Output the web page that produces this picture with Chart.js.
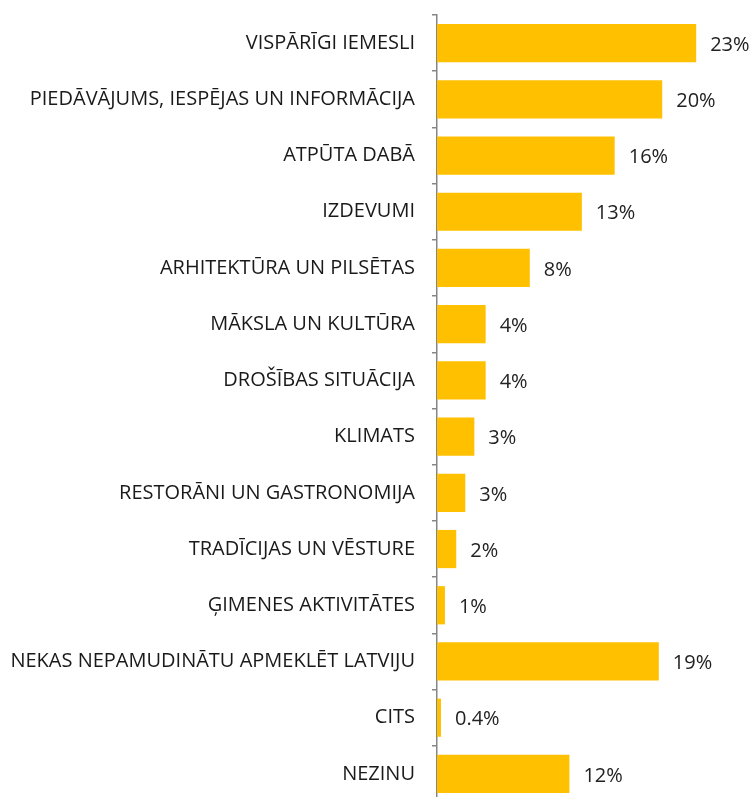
<!DOCTYPE html>
<html>
<head>
<meta charset="utf-8">
<script src="https://cdn.jsdelivr.net/npm/chart.js@4.4.1/dist/chart.umd.min.js"></script>
<style>
  html, body { margin: 0; padding: 0; background: #fff; overflow: hidden; }
  #wrap { width: 753px; height: 802px; }
</style>
</head>
<body>
<div id="wrap"><canvas id="myChart"></canvas></div>
<script>
// categories, top to bottom
const categories = [
  'VISPĀRĪGI IEMESLI',
  'PIEDĀVĀJUMS, IESPĒJAS UN INFORMĀCIJA',
  'ATPŪTA DABĀ',
  'IZDEVUMI',
  'ARHITEKTŪRA UN PILSĒTAS',
  'MĀKSLA UN KULTŪRA',
  'DROŠĪBAS SITUĀCIJA',
  'KLIMATS',
  'RESTORĀNI UN GASTRONOMIJA',
  'TRADĪCIJAS UN VĒSTURE',
  'ĢIMENES AKTIVITĀTES',
  'NEKAS NEPAMUDINĀTU APMEKLĒT LATVIJU',
  'CITS',
  'NEZINU'
];
// percent values
const shares = [22.9, 19.9, 15.7, 12.8, 8.2, 4.3, 4.3, 3.3, 2.5, 1.7, 0.7, 19.6, 0.35, 11.7];
// labels printed next to the bars
const shareLabels = ['23%', '20%', '16%', '13%', '8%', '4%', '4%', '3%', '3%', '2%', '1%', '19%', '0.4%', '12%'];

const FONT = '"Open Sans", sans-serif';

// draw value text to the right of each bar
const barValues = {
  id: 'barValues',
  afterDatasetsDraw(chart) {
    const ctx = chart.ctx;
    const meta = chart.getDatasetMeta(0);
    ctx.save();
    ctx.font = '20px ' + FONT;
    ctx.fillStyle = '#222222';
    ctx.textAlign = 'left';
    ctx.textBaseline = 'middle';
    meta.data.forEach((bar, i) => {
      const p = bar.getProps(['x', 'y'], true);
      ctx.fillText(shareLabels[i], p.x + 14, p.y + 2);
    });
    ctx.restore();
  }
};

const ctx = document.getElementById('myChart').getContext('2d');
new Chart(ctx, {
  type: 'bar',
  data: {
    labels: categories,
    datasets: [{
      data: shares,
      backgroundColor: '#FFC000',
      borderWidth: 0,
      categoryPercentage: 1,
      barPercentage: 0.68
    }]
  },
  options: {
    indexAxis: 'y',
    responsive: true,
    maintainAspectRatio: false,
    animation: false,
    layout: { padding: { top: 15, right: 24, bottom: 0, left: 0 } },
    plugins: {
      legend: { display: false },
      tooltip: { enabled: false }
    },
    scales: {
      x: {
        min: 0,
        max: 25.8,
        display: false
      },
      y: {
        grid: {
          drawOnChartArea: false,
          offset: true,
          tickLength: 5,
          color: '#868686',
          lineWidth: 1.5
        },
        border: { color: '#868686', width: 1.5 },
        ticks: {
          color: '#1a1a1a',
          padding: 17,
          autoSkip: false,
          font: { family: FONT, size: 20 }
        },
        afterFit(scale) {
          scale.width = 437;
          // no extra room for first/last label
          scale.paddingTop = 0;
          scale.paddingBottom = 0;
        }
      }
    }
  },
  plugins: [barValues]
});
</script>
</body>
</html>
